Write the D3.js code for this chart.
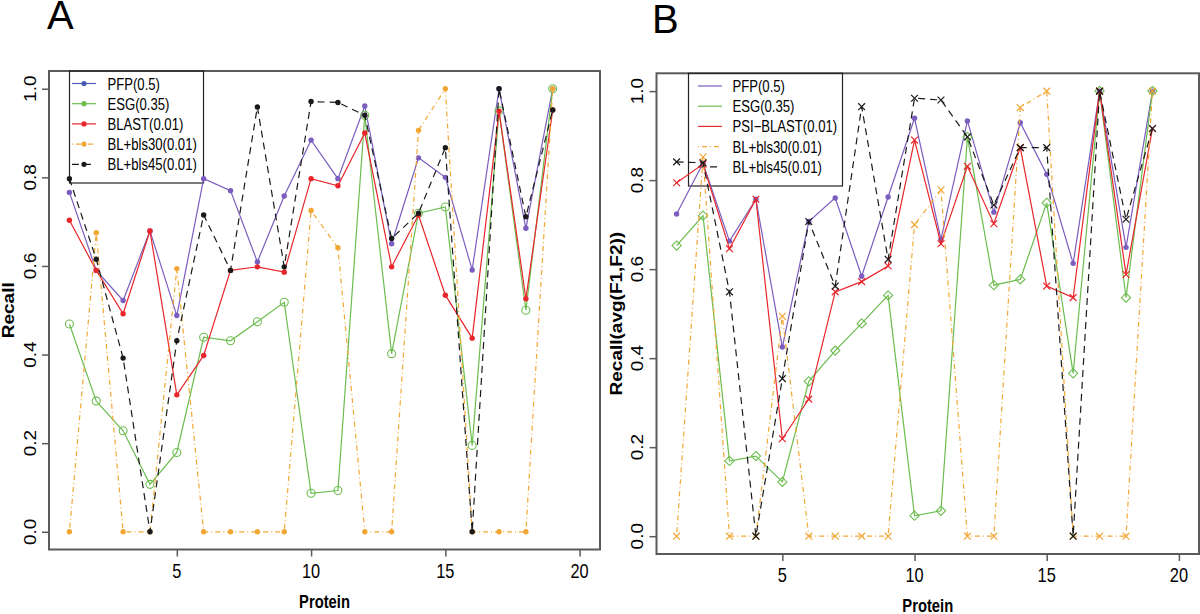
<!DOCTYPE html>
<html>
<head>
<meta charset="utf-8">
<script src="https://cdn.jsdelivr.net/npm/d3@7"></script>
<style>
  html, body { margin: 0; padding: 0; background: #fff; }
  svg { display: block; }
  text { font-family: "Liberation Sans", Arial, Helvetica, sans-serif; }
</style>
</head>
<body>
<svg id="chart" width="1200" height="614"></svg>
<script>
// ---------------- data ----------------
const proteins = [1,2,3,4,5,6,7,8,9,10,11,12,13,14,15,16,17,18,19];
const xTicks = [5, 10, 15, 20];
const yTicks = [0.0, 0.2, 0.4, 0.6, 0.8, 1.0];

// Panel A (Recall)
const A_names = ["PFP(0.5)", "ESG(0.35)", "BLAST(0.01)", "BL+bls30(0.01)", "BL+bls45(0.01)"];
const A_pfp   = [0.766,0.590,0.522,0.679,0.488,0.797,0.770,0.609,0.758,0.884,0.797,0.961,0.650,0.844,0.800,0.591,1.000,0.685,1.000];
const A_esg   = [0.469,0.295,0.228,0.107,0.179,0.439,0.431,0.474,0.518,0.087,0.093,0.940,0.402,0.719,0.733,0.195,0.950,0.500,1.000];
const A_blast = [0.703,0.590,0.492,0.679,0.309,0.398,0.590,0.598,0.586,0.797,0.781,0.900,0.598,0.715,0.534,0.437,0.949,0.526,0.952];
const A_bls30 = [0.000,0.675,0.000,0.000,0.594,0.000,0.000,0.000,0.000,0.725,0.641,0.000,0.000,0.906,1.000,0.000,0.000,0.000,1.000];
const A_bls45 = [0.797,0.615,0.392,0.000,0.431,0.715,0.590,0.959,0.598,0.971,0.969,0.940,0.662,0.719,0.867,0.000,1.000,0.711,0.952];

// Panel B (Recall(avg(F1,F2)))
const B_names = ["PFP(0.5)", "ESG(0.35)", "PSI\u2212BLAST(0.01)", "BL+bls30(0.01)", "BL+bls45(0.01)"];
const B_pfp   = [0.724,0.838,0.663,0.757,0.425,0.707,0.760,0.584,0.762,0.939,0.667,0.933,0.728,0.929,0.813,0.613,1.000,0.649,1.000];
const B_esg   = [0.653,0.720,0.169,0.180,0.122,0.348,0.417,0.478,0.541,0.046,0.057,0.897,0.564,0.577,0.749,0.366,1.000,0.536,1.000];
const B_psi   = [0.794,0.836,0.646,0.757,0.219,0.308,0.549,0.572,0.607,0.890,0.657,0.831,0.702,0.873,0.562,0.536,1.000,0.588,0.916];
const B_bls30 = [0.000,0.852,0.000,0.000,0.494,0.000,0.000,0.000,0.000,0.700,0.778,0.000,0.000,0.963,1.000,0.000,0.000,0.000,1.000];
const B_bls45 = [0.841,0.839,0.549,0.000,0.354,0.707,0.562,0.965,0.622,0.984,0.980,0.897,0.744,0.873,0.873,0.000,1.000,0.712,0.916];

// ---------------- styles ----------------
const lineColors   = ["#7b5dbf", "#6cbd4f", "#e8262b", "#f2a735", "#1a1a1a"];
const legendColorsA = ["#4a5cb3", "#6cbd4f", "#e8262b", "#f2a735", "#1a1a1a"];
const dashes = [null, null, null, "1,3,5,3", "7,5"];
const markersA = ["dot", "circle", "dot", "dot", "dot"];
const markersB = ["dot", "diamond", "x", "x", "x"];
const SX = 0.82; // horizontal compression of text (original image is squeezed)

const svg = d3.select("#chart");

function drawPanel(cfg) {
  const g = svg.append("g");
  const x = d3.scaleLinear().domain([0.24, 20.76]).range([cfg.left, cfg.right]);
  const y = d3.scaleLinear().domain([-0.04, 1.04]).range([cfg.bottom, cfg.top]);

  // panel letter
  g.append("text").attr("x", cfg.letterX).attr("y", cfg.letterY)
    .attr("font-size", 40).attr("fill", "#000").text(cfg.letter);

  // box
  g.append("rect").attr("x", cfg.left).attr("y", cfg.top)
    .attr("width", cfg.right - cfg.left).attr("height", cfg.bottom - cfg.top)
    .attr("fill", "none").attr("stroke", "#5a5a5a").attr("stroke-width", 2);

  // x axis
  const xa = g.append("g").attr("transform", `translate(0,${cfg.bottom})`)
    .call(d3.axisBottom(x).tickValues(xTicks).tickSize(7).tickFormat(""));
  xa.select(".domain").remove();
  xa.selectAll("line").attr("stroke", "#5a5a5a").attr("stroke-width", 1.5);
  xTicks.forEach(t => {
    g.append("text")
      .attr("transform", `translate(${x(t)},${cfg.xTickBase}) scale(${SX},1)`)
      .attr("text-anchor", "middle").attr("font-size", 20).attr("fill", "#000")
      .text(t);
  });

  // y axis
  const ya = g.append("g").attr("transform", `translate(${cfg.left},0)`)
    .call(d3.axisLeft(y).tickValues(yTicks).tickSize(7).tickFormat(""));
  ya.select(".domain").remove();
  ya.selectAll("line").attr("stroke", "#5a5a5a").attr("stroke-width", 1.5);
  yTicks.forEach(t => {
    g.append("text")
      .attr("transform", `translate(${cfg.yTickBase},${y(t)}) scale(${SX},1) rotate(-90)`)
      .attr("text-anchor", "middle").attr("font-size", 19).attr("fill", "#000")
      .text(d3.format(".1f")(t));
  });

  // axis titles
  g.append("text")
    .attr("transform", `translate(${(cfg.left + cfg.right) / 2},${cfg.xLabBase}) scale(${SX},1)`)
    .attr("text-anchor", "middle").attr("font-size", 18).attr("font-weight", "bold")
    .text("Protein");
  g.append("text")
    .attr("transform", `translate(${cfg.yLabBase},${(cfg.top + cfg.bottom) / 2}) scale(${SX},1) rotate(-90)`)
    .attr("text-anchor", "middle").attr("font-size", 19).attr("font-weight", "bold")
    .text(cfg.yLabel);

  // legend (transparent background)
  const L = cfg.legend;
  g.append("rect").attr("x", L.x0).attr("y", cfg.top).attr("width", L.x1 - L.x0)
    .attr("height", L.y1 - cfg.top).attr("fill", "none")
    .attr("stroke", "#222").attr("stroke-width", 1.2);
  cfg.names.forEach((nm, i) => {
    const ly = L.row0 + i * L.step;
    g.append("line").attr("x1", L.lx0).attr("x2", L.lx1).attr("y1", ly).attr("y2", ly)
      .attr("stroke", cfg.legendColors[i]).attr("stroke-width", 1.2)
      .attr("stroke-dasharray", dashes[i]);
    if (cfg.legendDots) {
      g.append("circle").attr("cx", (L.lx0 + L.lx1) / 2).attr("cy", ly).attr("r", 2.6)
        .attr("fill", cfg.legendColors[i]);
    }
    g.append("text")
      .attr("transform", `translate(${L.tx},${ly + 6}) scale(${SX},1)`)
      .attr("font-size", 16).attr("fill", "#000").text(nm);
  });

  // series
  const line = d3.line().x((d, i) => x(proteins[i])).y(d => y(d));
  cfg.series.forEach((vals, si) => {
    const col = lineColors[si];
    g.append("path").datum(vals).attr("d", line)
      .attr("fill", "none").attr("stroke", col).attr("stroke-width", 1.2)
      .attr("stroke-dasharray", dashes[si]);
    const mk = cfg.markers[si];
    const pts = g.append("g");
    vals.forEach((v, i) => {
      const px = x(proteins[i]), py = y(v);
      if (mk === "dot") {
        pts.append("circle").attr("cx", px).attr("cy", py).attr("r", 2.7).attr("fill", col);
      } else if (mk === "circle") {
        pts.append("circle").attr("cx", px).attr("cy", py).attr("r", 4)
          .attr("fill", "none").attr("stroke", col).attr("stroke-width", 1.1);
      } else if (mk === "diamond") {
        const s = 4.6;
        pts.append("path").attr("d", `M${px},${py - s}L${px + s},${py}L${px},${py + s}L${px - s},${py}Z`)
          .attr("fill", "none").attr("stroke", col).attr("stroke-width", 1.1);
      } else if (mk === "x") {
        const s = 3.4;
        pts.append("path").attr("d", `M${px - s},${py - s}L${px + s},${py + s}M${px - s},${py + s}L${px + s},${py - s}`)
          .attr("stroke", col).attr("stroke-width", 1.2);
      }
    });
  });
}

drawPanel({
  letter: "A", letterX: 47, letterY: 29,
  left: 49, right: 600, top: 71, bottom: 549.5,
  xTickBase: 578, yTickBase: 36, xLabBase: 608, yLabBase: 14,
  yLabel: "Recall",
  names: A_names, legendColors: legendColorsA, legendDots: true,
  series: [A_pfp, A_esg, A_blast, A_bls30, A_bls45], markers: markersA,
  legend: { x0: 69.5, x1: 203.5, y1: 183, row0: 83.5, step: 20.2, lx0: 72, lx1: 96, tx: 107.5 }
});

drawPanel({
  letter: "B", letterX: 652, letterY: 33,
  left: 656.5, right: 1199, top: 73.3, bottom: 554,
  xTickBase: 582, yTickBase: 643, xLabBase: 612, yLabBase: 622,
  yLabel: "Recall(avg(F1,F2))",
  names: B_names, legendColors: lineColors, legendDots: false,
  series: [B_pfp, B_esg, B_psi, B_bls30, B_bls45], markers: markersB,
  legend: { x0: 688.5, x1: 842.5, y1: 186, row0: 86, step: 20.2, lx0: 698, lx1: 722, tx: 732.5 }
});
</script>
</body>
</html>
